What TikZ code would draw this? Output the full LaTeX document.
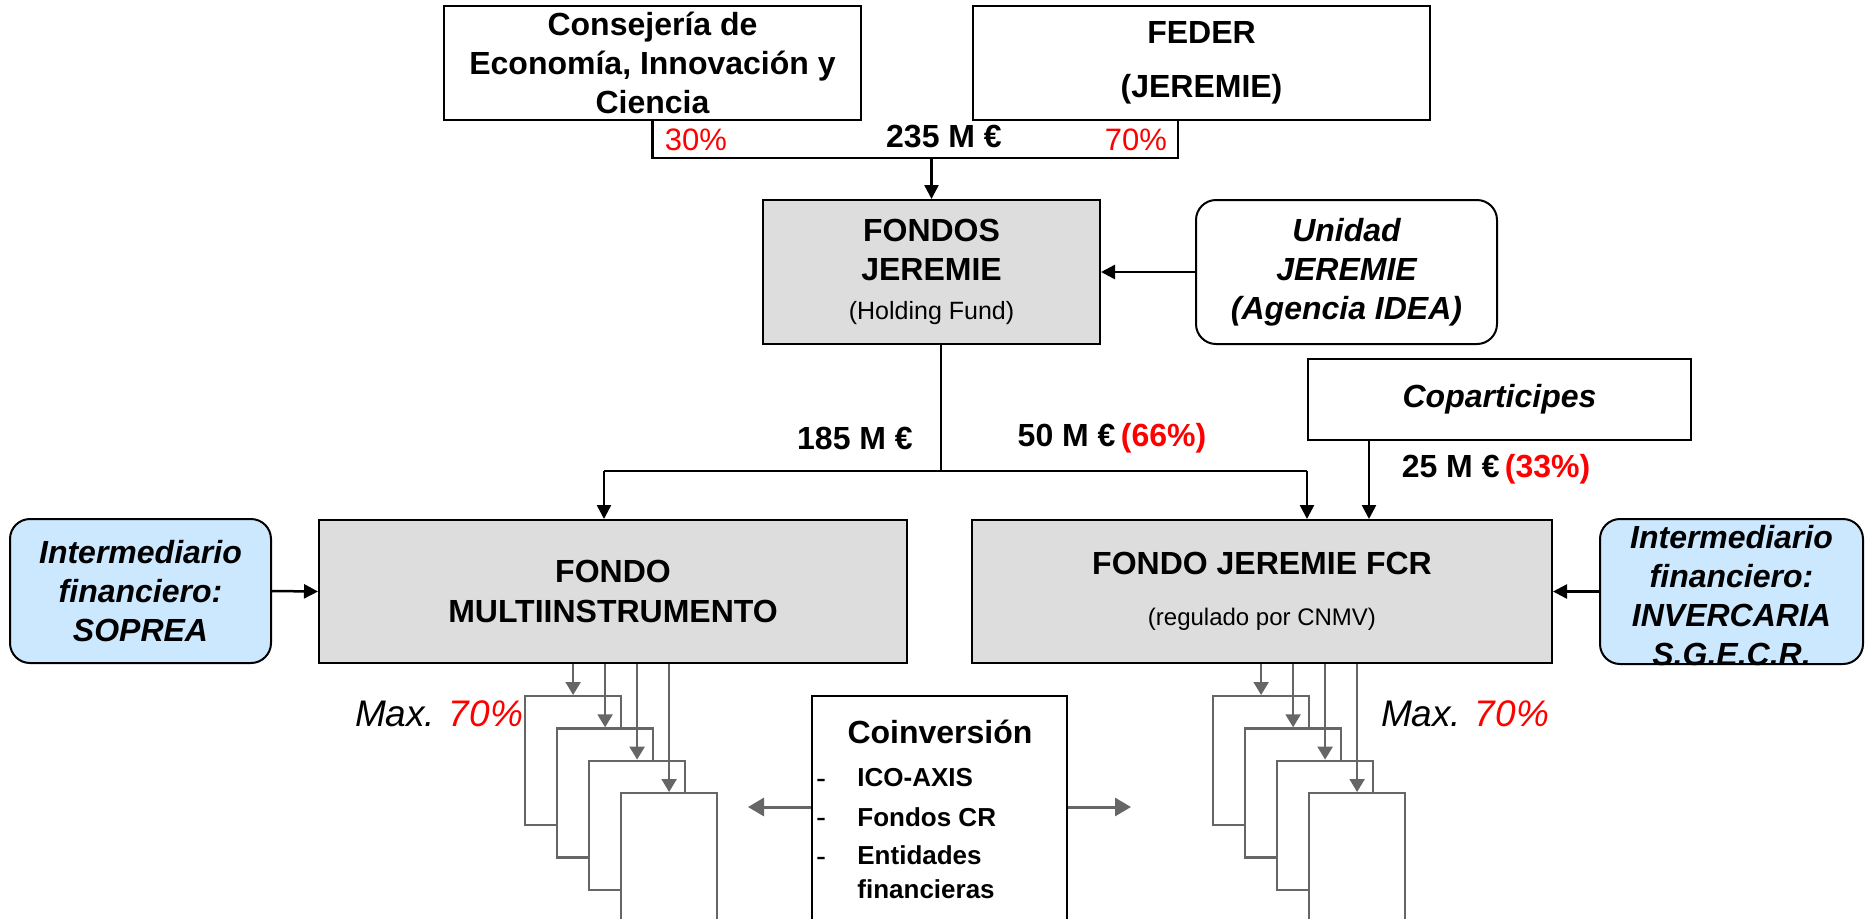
\documentclass[tikz,border=0pt]{standalone}
\usepackage{fontspec}
\setmainfont{Liberation Sans}
\usetikzlibrary{arrows.meta}
\definecolor{boxgrey}{HTML}{DDDDDD}
\definecolor{boxblue}{HTML}{CCE8FF}
\definecolor{linegrey}{HTML}{666666}
\definecolor{pctred}{HTML}{FF0000}
\begin{document}
\begin{tikzpicture}[x=0.5pt,y=-0.5pt,
  box/.style={draw=black, line width=1pt, fill=white, inner sep=0pt, align=center,
    font=\fontsize{16}{19.5}\selectfont\bfseries},
  fund/.style={box, fill=boxgrey},
  roundbox/.style={box, rounded corners=10pt, font=\fontsize{16}{19.5}\selectfont\bfseries\itshape},
  agent/.style={roundbox, fill=boxblue},
  itext/.style={inner sep=0pt, align=center, font=\fontsize{16}{19.5}\selectfont\bfseries\itshape},
  conn/.style={draw=black, line width=1.25pt},
  arr/.style={conn, -{Triangle[length=7pt,width=7pt]}},
  sheet/.style={draw=linegrey, line width=1.1pt, fill=white, inner sep=0pt, anchor=north west,
    minimum width=48pt, minimum height=64.5pt},
  garr/.style={draw=linegrey, line width=1.1pt, -{Triangle[length=6.5pt,width=7.5pt]}},
  garrbig/.style={draw=linegrey, line width=1.5pt, -{Triangle[length=8pt,width=9pt]}},
  lbl/.style={inner sep=0pt, font=\fontsize{16}{19.5}\selectfont\bfseries},
  pct/.style={inner sep=0pt, text=pctred, font=\fontsize{15.5}{18}\selectfont},
  maxlbl/.style={inner sep=0pt, font=\fontsize{18.5}{22}\selectfont\itshape},
  item/.style={inner sep=0pt, anchor=west, align=left, font=\fontsize{13}{17}\selectfont\bfseries},
  dashmark/.style={inner sep=0pt, anchor=base, font=\fontsize{15}{17}\selectfont},
]
\useasboundingbox (0,0) rectangle (1865,918);
\clip (0,0) rectangle (1865,918);

% top sources
\node[box, minimum width=208.5pt, minimum height=57pt] (cons) at (652.5,63)
  {Consejería de\\Economía, Innovación y\\Ciencia};
\node[box, minimum width=228.5pt, minimum height=57pt] (feder) at (1201.5,63)
  {FEDER\\[7.5pt](JEREMIE)};

\coordinate (brR) at (1178,158);
\draw[conn] (cons.south) |- (brR) -- (brR |- feder.south);

\node[pct] (p30) at (696,140) {30\%};
\node[lbl] (v235) at (944,136) {235 M €};
\node[pct] (p70) at (1136,140) {70\%};

% holding fund
\node[fund, minimum width=168.5pt, minimum height=72pt] (fondos) at (931.5,272)
  {FONDOS\\JEREMIE\\{\mdseries\fontsize{12.5}{15}\selectfont (Holding Fund)}};
\draw[arr] (fondos.north |- brR) -- (fondos.north);

\node[roundbox, minimum width=150.5pt, minimum height=72pt] (unidad) at (1346.5,272)
  {Unidad\\JEREMIE\\(Agencia IDEA)};
\draw[arr] (unidad.west) -- (fondos.east);

% coparticipes
\node[box, minimum width=191.5pt, minimum height=40.5pt,
  font=\fontsize{16}{19.5}\selectfont\bfseries\itshape] (copa) at (1499.5,399.5) {Coparticipes};

% funds
\node[fund, minimum width=294pt, minimum height=71.5pt] (multi) at (613,591.5)
  {FONDO\\[0.5pt]MULTIINSTRUMENTO};
\node[fund, minimum width=290pt, minimum height=71.5pt] (fcr) at (1262,591.5)
  {FONDO JEREMIE FCR\\[6pt]{\mdseries\fontsize{12}{14}\selectfont (regulado por CNMV)}};

% split connectors
\coordinate (split) at (941,471);
\coordinate (mIn) at (604,471);
\coordinate (fIn) at (1307,471);
\coordinate (cIn) at (1369,440);
\draw[conn] (fondos.south -| split) -- (split);
\draw[conn] (mIn) -- (fIn);
\draw[arr] (mIn) -- (mIn |- multi.north);
\draw[arr] (fIn) -- (fIn |- fcr.north);
\draw[arr] (cIn |- copa.south) -- (cIn |- fcr.north);

\node[lbl] (v185) at (855,438) {185 M €};
\node[lbl] (v50) at (1112,438) {50 M €\,\textcolor{pctred}{(66\%)}};
\node[lbl] (v25) at (1496,469) {25 M €\,\textcolor{pctred}{(33\%)}};

% intermediaries
\node[agent, minimum width=130.5pt, minimum height=72pt] (sopres) at (140.5,591)
  {Intermediario\\financiero:\\SOPREA};
\draw[arr] (sopres.east) -- (multi.west);

\node[agent, minimum width=131.5pt, minimum height=72.5pt] (inver) at (1731.5,591.5) {};
\node[itext] (invertext) at (1731.5,596)
  {Intermediario\\financiero:\\INVERCARIA\\S.G.E.C.R.};
\draw[arr] (inver.west) -- (fcr.east);

% stacked sheets, left
\node[sheet] (L1) at (524,695) {};
\node[sheet] (L2) at (556,727.3) {};
\node[sheet] (L3) at (588,759.6) {};
\node[sheet] (L4) at (620,792) {};
\foreach \s in {L1,L2,L3,L4}
  \draw[garr] (multi.south -| \s.north) -- (\s.north);

% stacked sheets, right
\node[sheet] (R1) at (1212,695) {};
\node[sheet] (R2) at (1244,727.3) {};
\node[sheet] (R3) at (1276,759.6) {};
\node[sheet] (R4) at (1308,792) {};
\foreach \s in {R1,R2,R3,R4}
  \draw[garr] (fcr.south -| \s.north) -- (\s.north);

\node[maxlbl] (maxL) at (439,714) {Max. \textcolor{pctred}{70\%}};
\node[maxlbl] (maxR) at (1465,714) {Max. \textcolor{pctred}{70\%}};

% coinversion
\node[box, anchor=north west, minimum width=127.5pt, minimum height=130pt] (coin) at (811,695) {};
\node[lbl] (cointitle) at (940,732) {Coinversión};
\node[dashmark] (d1) at (821,788) {-};
\node[dashmark] (d2) at (821,827) {-};
\node[dashmark] (d3) at (821,866) {-};
\node[item] (i1) at (857,778) {ICO-AXIS};
\node[item] (i2) at (857,817) {Fondos CR};
\node[item] (i3) at (857,872) {Entidades\\financieras};

\coordinate (cL) at (748,807);
\coordinate (cR) at (1131,807);
\draw[garrbig] (coin.west |- cL) -- (cL);
\draw[garrbig] (coin.east |- cR) -- (cR);
\end{tikzpicture}
\end{document}
